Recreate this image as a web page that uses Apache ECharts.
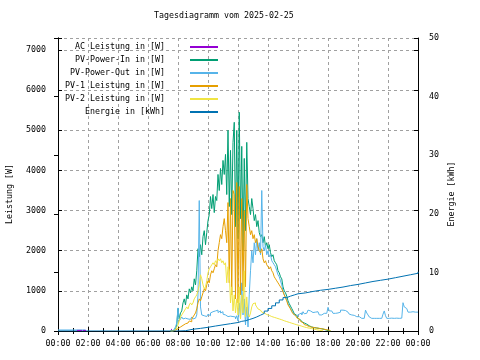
<!DOCTYPE html>
<html><head><meta charset="utf-8">
<script src="https://cdn.jsdelivr.net/npm/echarts@6/dist/echarts.min.js"></script>
<style>html,body{margin:0;padding:0;background:#fff}#c{width:480px;height:360px}</style>
</head><body><div id="c"></div>
<script>
// time in minutes since 00:00
const powerTimes = [450,455,460,465,470,475,480,485,490,495,500,505,510,515,520,525,530,535,540,545,550,555,560,565,570,575,580,585,590,595,600,605,610,615,620,625,630,635,640,645,650,655,660,665,670,675,680,685,690,695,700,705,710,715,720,725,730,735,740,745,750,755,760,765,770,775,780,785,790,795,800,805,810,815,820,825,830,835,840,845,850,855,860,865,870,875,880,885,890,895,900,905,910,915,920,925,930,935,940,945,950,955,960,965,970,975,980,985,990,995,1000,1005,1010,1015,1020,1025,1030,1035,1040,1045,1050,1055,1060,1065,1070,1075,1080,1085,1090,1095,1100,1105,1110,1115,1120,1125,1130,1135,1140,1145,1150,1155,1160,1165,1170,1175,1180,1185,1190,1195,1200,1205,1210,1215,1220,1225,1230,1235,1240,1245,1250,1255,1260,1265,1270,1275,1280,1285,1290,1295,1300,1305,1310,1315,1320,1325,1330,1335,1340,1345,1350,1355,1360,1365,1370,1375,1380,1385,1390,1395,1400,1405,1410,1415,1420,1425,1430,1435,1440];

const acTimes  = [76, 96, 97, 100, 112, 113, 452, 456, 457, 774, 776];
const acValues = [15, 15, null, 15, 15, null, 40, 40, null, 2100, 2100];

const pvIn = [
 0,0,20,40,80,150,
 560,300,450,500,700,800,650,900,800,1050,950,1100,
 1000,1300,1150,1500,2050,1850,2150,1900,2350,2500,2150,2450,
 2750,2900,3350,3050,3400,2950,3350,3250,3900,3500,4050,3650,
 4250,3900,4400,3400,5000,3100,4500,2900,4700,5200,2600,5000,
 2300,5450,2800,4600,2000,4300,2500,4700,3300,3100,2900,3300,
 3050,2750,2900,2600,2750,2450,2350,2400,2200,2350,2100,2200,
 2050,2150,1950,1850,1900,1750,1700,1650,1500,1450,1350,1300,
 1100,1000,950,870,750,680,620,560,500,430,390,350,
 310,280,260,230,200,180,170,150,130,110,100,90,
 85,80,75,70,65,60,55,50,40,30,20,10,
 0,0,0];

const pvOutEarlyTimes = [0, 110];
const pvOutEarly = [25, 25];
const pvOut = [
 0,0,20,50,100,200,
 575,250,300,350,300,320,280,300,330,290,310,350,
 300,320,350,400,900,3250,600,400,380,350,360,400,
 420,380,450,480,440,500,470,520,460,500,450,480,
 420,400,380,360,350,370,340,360,330,350,300,380,
 250,700,300,1200,400,800,150,600,100,900,1500,2000,
 1700,2200,1900,2300,2000,2200,1900,3500,2100,2000,2150,1900,
 2000,1850,1900,1750,1700,1650,1600,1500,1400,1350,1250,1150,
 1000,900,850,780,680,620,560,500,450,400,380,350,
 420,380,450,400,480,430,440,450,520,500,470,460,
 480,470,460,480,470,400,400,420,440,430,440,450,
 590,500,500,480,440,440,440,450,440,470,520,520,
 520,510,520,470,470,420,400,400,390,370,357,357,
 357,330,315,315,315,330,520,450,400,350,315,315,
 315,320,315,315,315,320,315,330,420,500,380,315,
 315,315,320,315,315,315,320,315,315,315,320,330,
 705,600,560,520,470,470,450,480,470,470,500,470,
 470];

const pv1 = [
 0,0,10,20,40,60,
 80,100,120,140,160,180,150,200,220,250,230,300,
 350,400,450,550,700,800,750,850,950,1050,1000,1150,
 1250,1200,1400,1500,1450,1550,1650,1600,2000,2200,2400,2300,
 2600,2800,2500,2200,3200,1200,3300,900,3500,3400,800,3700,
 700,3600,900,3300,1000,3000,1100,3650,2800,2600,2400,2500,
 2300,2400,2200,2300,2100,2000,1950,2050,1800,1700,1750,1650,
 1600,1550,1600,1500,1450,1350,1300,1250,1200,1150,1100,1050,
 980,900,820,750,650,600,550,480,430,390,360,330,
 300,270,240,210,180,160,140,120,110,100,95,90,
 85,80,75,70,65,60,55,50,45,40,30,25,
 20,10,0];

const pv2 = [
 0,0,10,30,60,100,
 150,250,350,400,450,500,550,600,550,650,700,650,
 700,800,850,900,1000,1150,1400,1300,1150,1050,1100,1250,
 1450,1550,1600,1650,1700,1650,1750,1700,1800,1750,1800,1700,
 1750,1650,1700,1200,1600,1500,700,1100,500,900,450,800,
 400,1100,300,900,450,1500,350,850,400,350,450,600,
 680,700,650,600,550,520,490,470,450,430,410,400,
 390,370,360,350,340,330,320,310,300,290,280,270,
 255,245,235,225,215,205,195,185,175,165,155,145,
 140,130,120,110,100,95,85,80,70,65,60,50,
 45,40,30,25,20,15,10,5,0];

const energyTimes = [0,470,480,510,540,570,600,630,660,690,720,735,750,765,780,795,810,825,840,855,870,885,900,915,930,945,960,990,1020,1050,1080,1110,1140,1170,1200,1230,1260,1290,1320,1350,1380,1410,1440];
const energy = [0,0,0.05,0.3,0.45,0.63,0.85,1.05,1.25,1.45,1.65,1.75,1.95,2.15,2.4,2.7,3.0,3.4,3.85,4.3,4.8,5.3,5.7,5.95,6.15,6.35,6.5,6.75,6.95,7.1,7.3,7.5,7.75,7.95,8.2,8.45,8.65,8.85,9.1,9.35,9.6,9.85,10.1];

const leftTicks = [0,1000,2000,3000,4000,5000,6000,7000];
const rightTicks = [0,10,20,30,40,50];

const names = ['AC Leistung in [W]','PV-Power-In in [W]','PV-Power-Out in [W]','PV-1 Leistung in [W]','PV-2 Leistung in [W]','Energie in [kWh]'];
const colors = ['#9400d3','#009e73','#56b4e9','#e69f00','#f0e442','#0072b2'];
const legendTops = [42, 55, 68, 81, 94, 107];

function pairs(t, v){ return v.map((y,i)=>[t[i], y]); }

const FONT = 'DejaVu Sans Mono';
const FS = 8.3;
const pad2 = n => (n<10?'0':'')+n;
const timeFmt = v => pad2(Math.floor(v/60)%24)+':'+pad2(v%60);

const chart = echarts.init(document.getElementById('c'), null, {renderer:'canvas'});
const gridLine = {show:true, lineStyle:{color:'#a0a0a0', type:[3,3], width:1}};
const axisLineBlack = {show:true, lineStyle:{color:'#000', width:1}};

const legends = names.map((n,i)=>({
  data:[n], top: legendTops[i], right: 262, orient:'vertical', align:'right',
  padding:0, itemWidth:28, itemHeight:2, icon:'rect', selectedMode:false,
  formatter: name => name + '    ',
  textStyle:{fontFamily:FONT, fontSize:FS, color:'#000', lineHeight:10}
}));

const pvOutData = pairs(pvOutEarlyTimes, pvOutEarly).concat([[111,null]], pairs(powerTimes, pvOut));

const lineBase = (i, data, yIndex) => ({
  name: names[i], type:'line', data, xAxisIndex:0, yAxisIndex:yIndex,
  step:'end', showSymbol:false, symbol:'none', connectNulls:false,
  lineStyle:{color:colors[i], width:1}, itemStyle:{color:colors[i]},
  animation:false, silent:true
});

chart.setOption({
  animation:false,
  backgroundColor:'#fff',
  title:{text:'Tagesdiagramm vom 2025-02-25', left:154, top:12, padding:0,
    textStyle:{fontFamily:FONT, fontSize:FS, fontWeight:'normal', color:'#000'}},
  legend: legends,
  grid:{left:58, right:62, top:38, bottom:29, containLabel:false},
  xAxis:[
    {type:'value', min:0, max:1440, interval:120, position:'bottom',
     axisLine:axisLineBlack, axisTick:{show:true, inside:true, length:4, lineStyle:{color:'#000'}},
     minorTick:{show:true, splitNumber:2, length:3, lineStyle:{color:'#000'}},
     axisLabel:{formatter:timeFmt, fontFamily:FONT, fontSize:FS, color:'#000', margin:9, showMinLabel:true, showMaxLabel:true},
     splitLine:gridLine},
    {type:'value', min:0, max:1440, interval:120, position:'top',
     axisLine:axisLineBlack, axisTick:{show:true, inside:true, length:4, lineStyle:{color:'#000'}},
     minorTick:{show:true, splitNumber:2, length:3, lineStyle:{color:'#000'}},
     axisLabel:{show:false}, splitLine:{show:false}}
  ],
  yAxis:[
    {type:'value', min:0, max:7300, interval:1000, position:'left',
     axisLine:axisLineBlack, axisTick:{show:true, inside:true, length:4, lineStyle:{color:'#000'}},
     axisLabel:{fontFamily:FONT, fontSize:FS, color:'#000', margin:12,
       formatter: v => leftTicks.includes(v) ? String(v) : ''},
     splitLine:gridLine},
    {type:'value', min:0, max:50, interval:10, position:'right',
     axisLine:axisLineBlack, axisTick:{show:true, inside:true, length:4, lineStyle:{color:'#000'}},
     axisLabel:{fontFamily:FONT, fontSize:FS, color:'#000', margin:11, align:'left',
       formatter: v => rightTicks.includes(v) ? String(v) : ''},
     splitLine:{show:false}},
    {type:'value', min:0, max:7300, interval:1000, position:'right',
     axisLine:axisLineBlack, axisTick:{show:true, inside:true, length:4, lineStyle:{color:'#000'}},
     axisLabel:{show:false}, splitLine:{show:false}}
  ],
  graphic:[
    {type:'text', x:10, y:194, rotation:Math.PI/2,
     style:{text:'Leistung [W]', font: FS+'px "'+FONT+'"', fill:'#000', textAlign:'center', textVerticalAlign:'middle'}},
    {type:'text', x:452, y:194, rotation:Math.PI/2,
     style:{text:'Energie [kWh]', font: FS+'px "'+FONT+'"', fill:'#000', textAlign:'center', textVerticalAlign:'middle'}}
  ],
  series:[
    Object.assign(lineBase(0, pairs(acTimes, acValues), 0), {z:5}),
    lineBase(1, pairs(powerTimes, pvIn), 0),
    lineBase(2, pvOutData, 0),
    lineBase(3, pairs(powerTimes, pv1), 0),
    lineBase(4, pairs(powerTimes, pv2), 0),
    lineBase(5, pairs(energyTimes, energy), 1)
  ]
});
</script>
</body></html>
